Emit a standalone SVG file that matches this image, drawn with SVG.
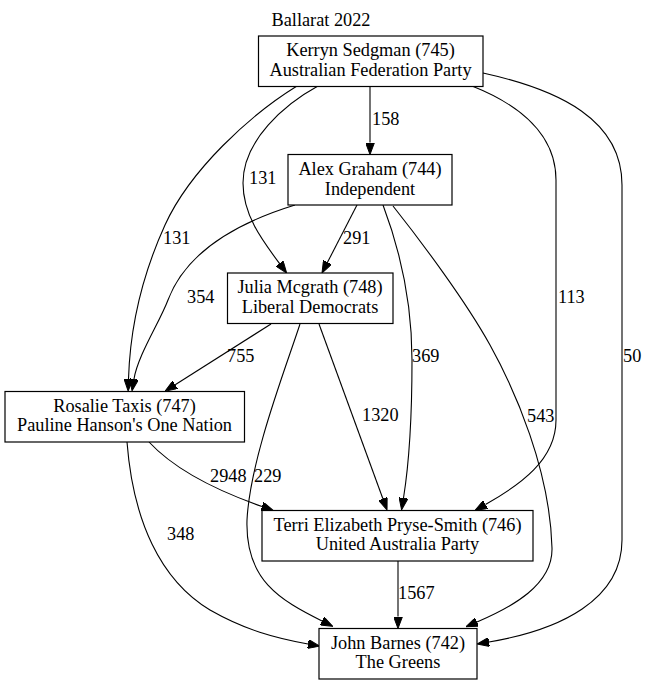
<svg xmlns="http://www.w3.org/2000/svg" width="646" height="685" viewBox="0 0 646 685">
<style>
text{font-family:'Liberation Serif','Times New Roman',serif;font-size:18.3px;fill:#000}
.node rect{fill:#fff;stroke:#000;stroke-width:1.2}
.node text{text-anchor:middle}
.edges path{fill:none;stroke:#000;stroke-width:1.1}
.edges path.e{marker-end:url(#arr)}
</style>
<defs>
<marker id="arr" markerUnits="userSpaceOnUse" viewBox="0 0 12 9" refX="0" refY="4.5" markerWidth="12" markerHeight="9" orient="auto">
<path d="M0,0 L12,4.5 L0,9 z" fill="#000" stroke="#000" stroke-width="1"/>
</marker>
</defs>
<rect width="646" height="685" fill="#fff"/>
<text x="321" y="26" text-anchor="middle">Ballarat 2022</text>
<g class="edges">
<path class="e" d="M370,86.5 L370,142.5"/>
<path class="e" d="M318,86 C285,104 243,140 243,183 C243,215 262,240 279.5,263.5"/>
<path class="e" d="M297,86 C250,115 190,170 165,225 C140,280 130,330 128.5,379"/>
<path class="e" d="M472,86 C520,105 556,135 556,180 L556,420 C556,460 520,485 485.5,504.5"/>
<path class="e" d="M483,73 C560,90 622,120 622,185 L622,540 C622,600 560,630 489,642"/>
<path class="e" d="M357,205 L327.5,262.3"/>
<path class="e" d="M295,205 C230,225 185,255 168,300 C159.5,322.5 138,355 134,379"/>
<path class="e" d="M383,205 C400,250 412,300 412,360 C412,420 408,470 403.5,498"/>
<path class="e" d="M393,206 C420,240 465,300 490,345 C515,390 550,470 552,548 C553,585 512,607 477,622"/>
<path class="e" d="M271,324 L175.2,384.7"/>
<path class="e" d="M319,324 L382.9,498.7"/>
<path class="e" d="M300,324 C285,370 250,460 247,520 C245,580 280,600 322,621"/>
<path class="e" d="M149,442 C175,470 215,490 262,506.5"/>
<path class="e" d="M127,442 C133,520 160,580 210,610 C245,630 275,638 308,644"/>
<path class="e" d="M398,561 L398,616.5"/>
<text x="372" y="125">158</text>
<text x="249" y="184">131</text>
<text x="163" y="244">131</text>
<text x="343" y="244">291</text>
<text x="187" y="303">354</text>
<text x="558" y="303">113</text>
<text x="227" y="362">755</text>
<text x="412" y="362">369</text>
<text x="623" y="362">50</text>
<text x="362" y="421">1320</text>
<text x="527" y="422">543</text>
<text x="210" y="482">2948</text>
<text x="254" y="482">229</text>
<text x="167" y="540">348</text>
<text x="398" y="599">1567</text>
</g>
<g id="n745" class="node"><rect x="258.5" y="36" width="224.5" height="50.5"/><text x="370.5" y="56">Kerryn Sedgman (745)</text><text x="370.5" y="76">Australian Federation Party</text></g>
<g id="n744" class="node"><rect x="288" y="154.5" width="164" height="50.5"/><text x="370" y="175">Alex Graham (744)</text><text x="370" y="194.5">Independent</text></g>
<g id="n748" class="node"><rect x="227.5" y="273" width="165.5" height="50.5"/><text x="310" y="293">Julia Mcgrath (748)</text><text x="310" y="313">Liberal Democrats</text></g>
<g id="n747" class="node"><rect x="5" y="391.5" width="239.5" height="50.5"/><text x="124.5" y="411.5">Rosalie Taxis (747)</text><text x="124.5" y="431">Pauline Hanson's One Nation</text></g>
<g id="n746" class="node"><rect x="262" y="510.5" width="271" height="50.5"/><text x="397.5" y="530.5">Terri Elizabeth Pryse-Smith (746)</text><text x="397.5" y="550">United Australia Party</text></g>
<g id="n742" class="node"><rect x="319" y="628.5" width="158" height="50.5"/><text x="398" y="648.5">John Barnes (742)</text><text x="398" y="668">The Greens</text></g>
</svg>
